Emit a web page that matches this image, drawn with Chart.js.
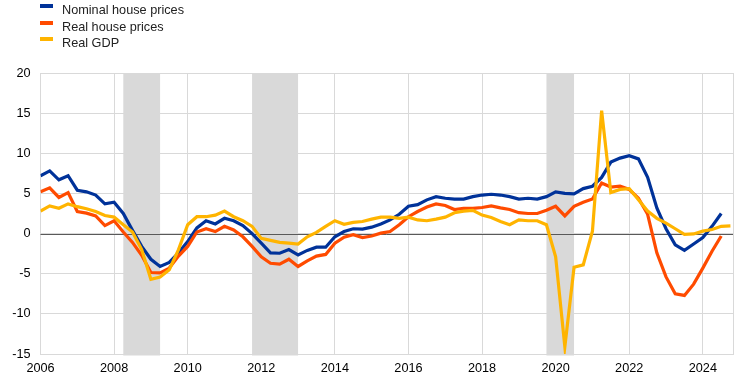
<!DOCTYPE html>
<html>
<head>
<meta charset="utf-8">
<script src="https://cdn.jsdelivr.net/npm/chart.js@4/dist/chart.umd.min.js"></script>
<style>
  html, body { margin: 0; padding: 0; background: #ffffff; }
  #wrap { position: relative; width: 742px; height: 379px; }
  canvas { display: block; }
  #legend { position: absolute; left: 0; top: 0; font-family: "Liberation Sans", Arial, sans-serif; font-size: 12.7px; color: #222; }
  .item { position: absolute; left: 40px; height: 16px; line-height: 16px; white-space: nowrap; }
  .sw { position: absolute; left: 0; width: 13px; height: 4px; }
  .lbl { position: absolute; left: 22px; top: 0; }
</style>
</head>
<body>
<div id="wrap">
  <canvas id="c" width="742" height="379"></canvas>
  <div id="legend"></div>
</div>
<script>
// Quarterly observations, first quarter of 2006 onwards
const startYear = 2006;
const seriesNames = ["Nominal house prices", "Real house prices", "Real GDP"];
const nominalHousePrices = [
  7.2, 7.8, 6.7, 7.2,  5.4, 5.2, 4.8, 3.7,  3.9, 2.5, 0.4, -1.6,  -3.2, -4.1, -3.6, -2.4,
  -1.0, 0.7, 1.6, 1.2,  1.9, 1.6, 1.0, 0.0,  -1.2, -2.4, -2.45, -2.0,  -2.65, -2.1, -1.7, -1.7,
  -0.4, 0.25, 0.6, 0.55,  0.8, 1.2, 1.7, 2.4,  3.4, 3.6, 4.2, 4.6,  4.4, 4.3, 4.3, 4.6,
  4.8, 4.9, 4.8, 4.6,  4.3, 4.4, 4.3, 4.6,  5.2, 5.0, 4.95, 5.6,  5.9, 7.0, 8.9, 9.4,
  9.7, 9.3, 7.0, 3.2,  0.6, -1.4, -2.1, -1.3,  -0.5, 0.9, 2.5
];
const realHousePrices = [
  5.2, 5.7, 4.5, 5.1,  2.75, 2.55, 2.2, 1.0,  1.6, 0.2, -1.1, -2.7,  -4.85, -4.9, -4.3, -2.8,
  -1.6, 0.2, 0.6, 0.25,  0.9, 0.45, -0.4, -1.6,  -2.9, -3.7, -3.8, -3.2,  -4.1, -3.4, -2.8, -2.6,
  -1.2, -0.45, -0.15, -0.5,  -0.3, 0.05, 0.25, 1.1,  2.1, 2.75, 3.3, 3.7,  3.5, 3.0, 3.15, 3.15,
  3.25, 3.45, 3.2, 3.0,  2.6, 2.5, 2.5, 2.9,  3.4, 2.2, 3.4, 3.9,  4.3, 6.3, 5.8, 5.9,
  5.5, 4.4, 2.4, -2.4,  -5.4, -7.5, -7.7, -6.3,  -4.3, -2.2, -0.3
];
const realGDP = [
  2.8, 3.45, 3.15, 3.7,  3.35, 3.1, 2.75, 2.25,  2.05, 1.1, 0.2, -2.0,  -5.7, -5.4, -4.5, -2.0,
  1.1, 2.1, 2.1, 2.3,  2.8, 2.1, 1.6, 0.9,  -0.6, -0.85, -1.1, -1.2,  -1.3, -0.4, 0.15, 0.9,
  1.6, 1.15, 1.4, 1.5,  1.8, 2.05, 2.05, 1.9,  2.05, 1.7, 1.6, 1.8,  2.05, 2.6, 2.8, 2.9,
  2.3, 2.0, 1.5, 1.1,  1.7, 1.6, 1.6, 1.1,  -2.9, -14.1, -4.2, -3.9,  0.3, 15.3, 5.1, 5.5,
  5.6, 4.2, 2.8, 1.9,  1.3, 0.6, -0.1, -0.05,  0.3, 0.5, 0.9, 0.95
];
const xTickYears = [2006, 2008, 2010, 2012, 2014, 2016, 2018, 2020, 2022, 2024];
const yTicks = [-15, -10, -5, 0, 5, 10, 15, 20];
// Shaded periods (start, end) in years
const shadedPeriods = [[2008.25, 2009.25], [2011.75, 2013.0], [2019.75, 2020.5]];
const colors = ["#003299", "#ff4b00", "#ffb400"];

const toPoints = arr => arr.map((v, i) => ({ x: startYear + i * 0.25, y: v }));
const xMax = 2024.82;

const bandsPlugin = {
  id: 'bands',
  beforeDatasetsDraw(chart) {
    const { ctx, chartArea, scales } = chart;
    const xs = scales.x, ys = scales.y;
    ctx.save();
    ctx.fillStyle = '#d9d9d9';
    shadedPeriods.forEach(([a, b]) => {
      const x0 = xs.getPixelForValue(a), x1 = xs.getPixelForValue(b);
      ctx.fillRect(x0, chartArea.top, x1 - x0, chartArea.bottom - chartArea.top + 1.5);
    });
    const y0 = Math.round(ys.getPixelForValue(0)) + 0.5;
    ctx.strokeStyle = '#595959';
    ctx.lineWidth = 1;
    ctx.beginPath();
    ctx.moveTo(chartArea.left, y0);
    ctx.lineTo(chartArea.right, y0);
    ctx.stroke();
    ctx.restore();
  }
};

const ctx = document.getElementById('c').getContext('2d');
new Chart(ctx, {
  type: 'line',
  data: {
    datasets: [nominalHousePrices, realHousePrices, realGDP].map((arr, i) => ({
      label: seriesNames[i],
      data: toPoints(arr),
      borderColor: colors[i],
      backgroundColor: colors[i],
      borderWidth: 3.2,
      pointRadius: 0,
      tension: 0,
      fill: false,
      order: 3 - i
    }))
  },
  plugins: [bandsPlugin],
  options: {
    responsive: false,
    animation: false,
    layout: { padding: { top: 73, right: 9, bottom: 2, left: 0 } },
    plugins: { legend: { display: false }, tooltip: { enabled: false } },
    scales: {
      x: {
        type: 'linear',
        min: startYear,
        max: xMax,
        afterBuildTicks: axis => { axis.ticks = xTickYears.concat([xMax]).map(v => ({ value: v })); },
        afterFit: axis => { axis.height = 23; },
        ticks: {
          autoSkip: false,
          maxRotation: 0,
          padding: 7,
          color: '#000',
          font: { family: '"Liberation Sans", Arial, sans-serif', size: 12.7 },
          callback: v => (xTickYears.includes(v) ? String(v) : '')
        },
        grid: { color: '#d9d9d9', lineWidth: 1, drawTicks: false },
        border: { color: '#d9d9d9' }
      },
      y: {
        min: -15,
        max: 20,
        afterBuildTicks: axis => { axis.ticks = yTicks.map(v => ({ value: v })); },
        afterFit: axis => { axis.width = 40.5; },
        ticks: {
          padding: 10,
          color: '#000',
          font: { family: '"Liberation Sans", Arial, sans-serif', size: 12.7 }
        },
        grid: { color: '#d9d9d9', lineWidth: 1, drawTicks: false },
        border: { color: '#d9d9d9' }
      }
    }
  }
});

// Legend (HTML text)
const legend = document.getElementById('legend');
seriesNames.forEach((name, i) => {
  const item = document.createElement('div');
  item.className = 'item';
  item.style.top = (2 + i * 16.5) + 'px';
  const sw = document.createElement('div');
  sw.className = 'sw';
  sw.style.background = colors[i];
  sw.style.top = '2px';
  const lbl = document.createElement('div');
  lbl.className = 'lbl';
  lbl.textContent = name;
  item.appendChild(sw);
  item.appendChild(lbl);
  legend.appendChild(item);
});
</script>
</body>
</html>
